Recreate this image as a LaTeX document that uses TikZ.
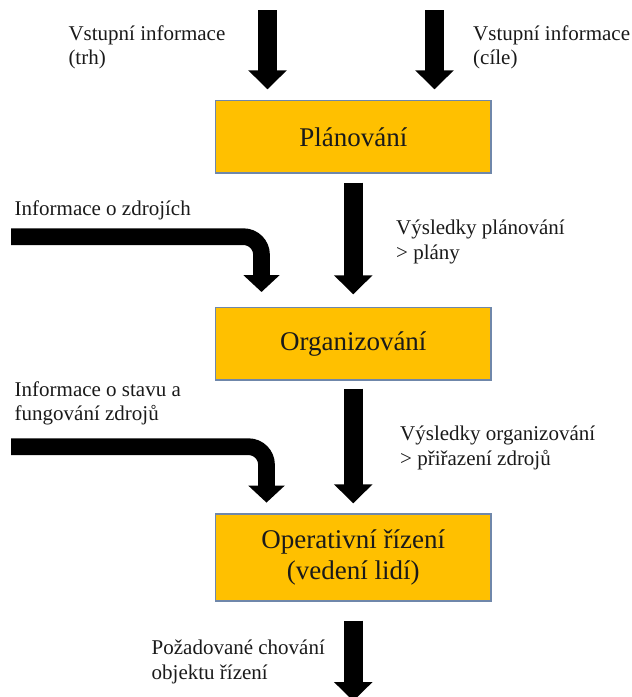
\documentclass[tikz,border=0pt]{standalone}
\usepackage{fontspec}
\IfFontExistsTF{LiberationSerif-Regular.ttf}
  {\setmainfont{LiberationSerif-Regular.ttf}}
  {\setmainfont{Liberation Serif}}
\usetikzlibrary{arrows.meta}
\definecolor{boxfill}{HTML}{FFC000}
\definecolor{boxline}{HTML}{6F87AA}
\definecolor{ink}{HTML}{1A1A1A}
\begin{document}
\begin{tikzpicture}[x=1pt,y=-1pt,
  stage/.style={draw=boxline, line width=1.4pt, fill=boxfill, minimum width=275.5pt,
    inner sep=0pt, font=\fontsize{27}{30.5}\selectfont, text=ink, align=center},
  note/.style={anchor=base west, inner sep=0pt, align=left,
    font=\fontsize{21}{24.2}\selectfont, text=ink},
  bigarrow/.style={draw=black, line width=19.5pt, -{Triangle[length=19pt,width=37.5pt]}},
  bentarrow/.style={draw=black, line width=16.7pt, rounded corners=18pt,
    -{Triangle[length=17pt,width=35.5pt]}}]
\useasboundingbox (0,0) rectangle (632,697);

% management stages
\node[stage, minimum height=72.3pt] (plan) at (353.25,136.85) {Plánování};
\node[stage, minimum height=72.3pt] (org)  at (353.25,343.85) {Organizování};
\node[stage, minimum height=87pt]   (oper) at (353.25,557.5)  {Operativní řízení\\(vedení lidí)};

% input flows into planning
\coordinate (inTrh)  at (267.5,10);
\coordinate (inCile) at (434.5,10);
\draw[bigarrow, shorten >=10.7pt] (inTrh)  -- (inTrh |- plan.north);
\draw[bigarrow, shorten >=10.7pt] (inCile) -- (inCile |- plan.north);

% flows between stages
\draw[bigarrow, shorten <=9pt, shorten >=12.7pt] (plan.south) -- (org.north);
\draw[bigarrow, shorten <=8pt, shorten >=10pt]   (org.south)  -- (oper.north);
\coordinate (out) at (353.25,701);
\draw[bigarrow, shorten <=19pt] (oper.south) -- (out);

% side information flows
\coordinate (src1)  at (11,236.7);
\coordinate (bend1) at (261.5,236.7);
\draw[bentarrow, shorten >=15pt] (src1) -- (bend1) -- (bend1 |- org.north);
\coordinate (src2)  at (11,446.7);
\coordinate (bend2) at (266.5,446.7);
\draw[bentarrow, shorten >=10.7pt] (src2) -- (bend2) -- (bend2 |- oper.north);

% annotations (placed at the baseline of their last line)
\node[note] (tTrh)  at (68.3,64.5)  {Vstupní informace\\(trh)};
\node[note] (tCile) at (473,64.5)   {Vstupní informace\\(cíle)};
\node[note] (tZdr)  at (14.5,215)   {Informace o zdrojích};
\node[note] (tPlan) at (396,259)    {Výsledky plánování\\> plány};
\node[note] (tStav) at (14.5,420.5) {Informace o stavu a\\fungování zdrojů};
\node[note] (tOrg)  at (400,465)    {Výsledky organizování\\> přiřazení zdrojů};
\node[note] (tOut)  at (151.5,679)  {Požadované chování\\objektu řízení};
\end{tikzpicture}
\end{document}
